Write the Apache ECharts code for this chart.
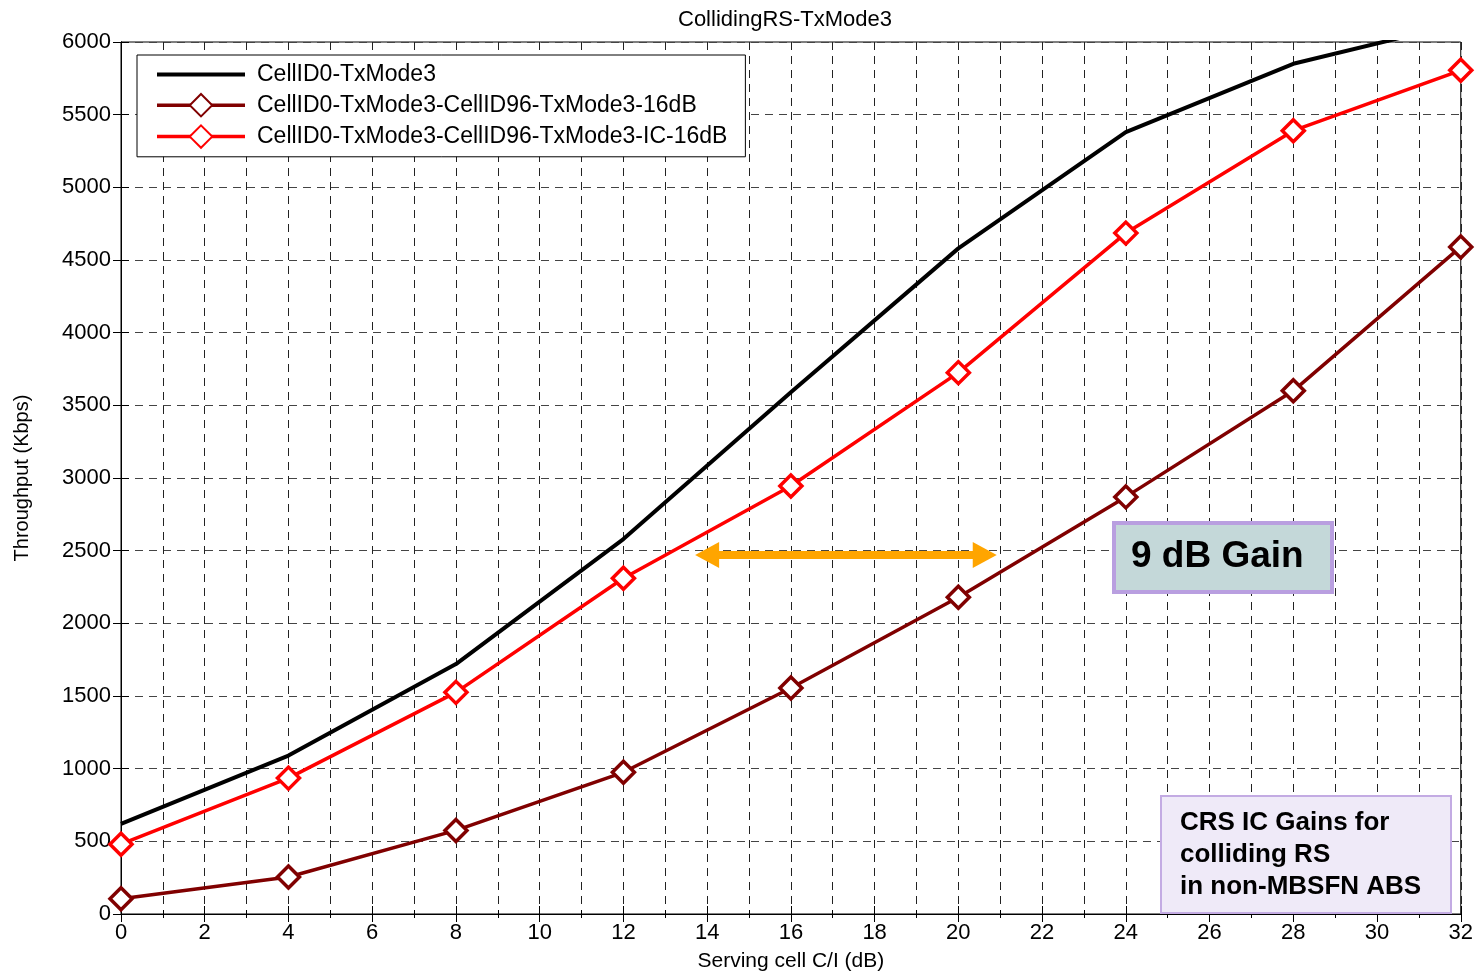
<!DOCTYPE html>
<html>
<head>
<meta charset="utf-8">
<style>
  html, body { margin: 0; padding: 0; background: #fff; }
  #chart { width: 1476px; height: 977px; }
</style>
<script src="https://cdn.jsdelivr.net/npm/echarts@6/dist/echarts.min.js"></script>
</head>
<body>
<div id="chart"></div>
<script>
// serving cell C/I (dB)
var ciValues = [0, 4, 8, 12, 16, 20, 24, 28, 32];
// throughput (Kbps)
var cellId0 = [620, 1090, 1720, 2580, 3590, 4580, 5380, 5850, 6130];
var cellId96 = [105, 255, 575, 975, 1555, 2180, 2870, 3600, 4590];
var cellId96IC = [480, 935, 1525, 2310, 2945, 3725, 4685, 5390, 5805];

var seriesNames = [
  "CellID0-TxMode3",
  "CellID0-TxMode3-CellID96-TxMode3-16dB",
  "CellID0-TxMode3-CellID96-TxMode3-IC-16dB"
];

// 9 dB gain arrow (C/I, Kbps), centres of the two heads
var gainArrowFrom = [14.0, 2470];
var gainArrowTo = [20.63, 2470];

var FONT = "Liberation Sans, Arial, sans-serif";

function pairs(ys) {
  return ciValues.map(function (x, i) { return [x, ys[i]]; });
}

var chart = echarts.init(document.getElementById("chart"));

var dashed = { color: "#222", type: [8, 6], width: 1 };

var option = {
  animation: false,
  backgroundColor: "#fff",
  title: {
    text: "CollidingRS-TxMode3",
    left: 673,
    top: 4,
    textStyle: { fontFamily: FONT, fontSize: 22, fontWeight: "normal", color: "#000" }
  },
  grid: {
    left: 121,
    right: 15,
    top: 42,
    bottom: 62,
    show: true,
    borderColor: "#000",
    borderWidth: 1
  },
  legend: {
    orient: "vertical",
    left: 137,
    top: 55,
    padding: [8, 18, 8, 18],
    itemWidth: 88,
    itemHeight: 28,
    itemGap: 7,
    backgroundColor: "#fff",
    borderColor: "#000",
    borderWidth: 1,
    textStyle: { fontFamily: FONT, fontSize: 23, color: "#000", padding: [0, 0, 0, 7] },
    data: [
      { name: seriesNames[0], itemStyle: { opacity: 0 }, lineStyle: { width: 4 } },
      { name: seriesNames[1], lineStyle: { width: 3.5 } },
      { name: seriesNames[2], lineStyle: { width: 3.5 } }
    ]
  },
  xAxis: [
    {
      type: "value",
      min: 0,
      max: 32,
      interval: 2,
      name: "Serving cell C/I (dB)",
      nameLocation: "middle",
      nameGap: 37,
      nameTextStyle: { fontFamily: FONT, fontSize: 21, color: "#000" },
      axisLine: { lineStyle: { color: "#000", width: 1 } },
      axisTick: { inside: true, length: 8, lineStyle: { color: "#000" } },
      minorTick: { show: true, splitNumber: 2, length: 4, lineStyle: { color: "#000" } },
      axisLabel: { fontFamily: FONT, fontSize: 22, color: "#000", margin: 8 },
      splitLine: { show: true, lineStyle: dashed },
      minorSplitLine: { show: true, lineStyle: dashed }
    },
    {
      type: "value",
      position: "top",
      min: 0,
      max: 32,
      interval: 2,
      axisLine: { lineStyle: { color: "#000", width: 1 } },
      axisTick: { inside: true, length: 8, lineStyle: { color: "#000" } },
      minorTick: { show: true, splitNumber: 2, length: 4, lineStyle: { color: "#000" } },
      axisLabel: { show: false },
      splitLine: { show: false }
    }
  ],
  yAxis: [
    {
      type: "value",
      min: 0,
      max: 6000,
      interval: 500,
      name: "Throughput (Kbps)",
      nameLocation: "middle",
      nameGap: 89,
      nameTextStyle: { fontFamily: FONT, fontSize: 20, color: "#000" },
      axisLine: { show: true, lineStyle: { color: "#000", width: 1 } },
      axisTick: { show: true, inside: true, length: 8, lineStyle: { color: "#000" } },
      axisLabel: {
        fontFamily: FONT,
        fontSize: 22,
        color: "#000",
        margin: 10,
        formatter: function (v) { return String(v); }
      },
      splitLine: { show: true, lineStyle: { color: "#444", type: [8, 6], width: 1 } }
    },
    {
      type: "value",
      position: "right",
      min: 0,
      max: 6000,
      interval: 500,
      axisLine: { show: true, lineStyle: { color: "#000", width: 1 } },
      axisTick: { show: true, inside: true, length: 8, lineStyle: { color: "#000" } },
      axisLabel: { show: false },
      splitLine: { show: false }
    }
  ],
  series: [
    {
      name: seriesNames[0],
      type: "line",
      data: pairs(cellId0),
      symbol: "none",
      clip: true,
      lineStyle: { color: "#000", width: 4 },
      itemStyle: { color: "#000" },
      z: 4
    },
    {
      name: seriesNames[1],
      type: "line",
      data: pairs(cellId96),
      symbol: "diamond",
      symbolSize: 22,
      showAllSymbol: true,
      lineStyle: { color: "#800000", width: 3.5 },
      itemStyle: { color: "#fff", borderColor: "#800000", borderWidth: 3.5 },
      z: 3
    },
    {
      name: seriesNames[2],
      type: "line",
      data: pairs(cellId96IC),
      symbol: "diamond",
      symbolSize: 22,
      showAllSymbol: true,
      lineStyle: { color: "#ff0000", width: 3.5 },
      itemStyle: { color: "#fff", borderColor: "#ff0000", borderWidth: 3.5 },
      z: 3,
      markLine: {
        silent: true,
        symbol: ["triangle", "triangle"],
        symbolSize: [26, 24],
        label: { show: false },
        emphasis: { disabled: true },
        lineStyle: { color: "#FFA500", width: 8, type: "solid" },
        data: [[{ coord: gainArrowFrom }, { coord: gainArrowTo }]]
      }
    }
  ],
  graphic: [
    {
      type: "rect",
      left: 1112,
      top: 521,
      shape: { width: 218, height: 69 },
      style: { fill: "#C4D8D9", stroke: "#B99FE0", lineWidth: 4 },
      z: 100
    },
    {
      type: "text",
      left: 1131,
      top: 538,
      style: {
        text: "9 dB Gain",
        font: "bold 37px " + FONT,
        fill: "#000"
      },
      z: 101
    },
    {
      type: "rect",
      left: 1160,
      top: 795,
      shape: { width: 290, height: 117 },
      style: { fill: "#EFEAF8", stroke: "#C3ABE3", lineWidth: 2 },
      z: 100
    },
    {
      type: "text",
      left: 1180,
      top: 807,
      style: {
        text: "CRS IC Gains for\ncolliding RS\nin non-MBSFN ABS",
        font: "bold 26px " + FONT,
        lineHeight: 32,
        fill: "#000"
      },
      z: 101
    }
  ]
};

chart.setOption(option);
</script>
</body>
</html>
